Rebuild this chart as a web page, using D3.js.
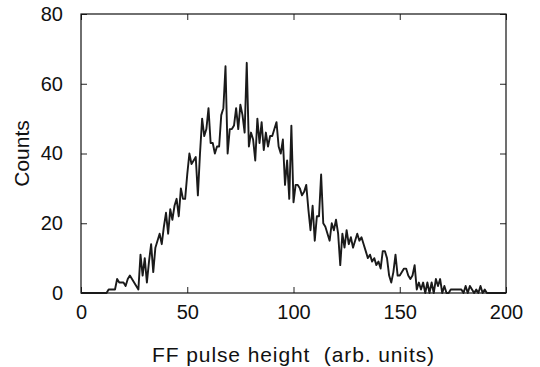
<!DOCTYPE html>
<html>
<head>
<meta charset="utf-8">
<script src="https://cdn.jsdelivr.net/npm/d3@7"></script>
<style>
	body { margin: 0; background: #fff; }
	svg { display: block; font-family: "Liberation Sans", Arial, sans-serif; }
</style>
</head>
<body>
<div id="chart"></div>
<script>
// counts per 1-unit bin, bins 0..200
const counts = [
	0, 0, 0, 0, 0, 0, 0, 0, 0, 0, 0, 0, 0, 1, 1, 1, 1, 4, 3, 3,
	3, 2, 4, 5, 4, 3, 2, 1, 11, 5, 10, 3, 9, 14, 6, 13, 15, 17, 14, 19,
	23, 17, 24, 21, 25, 27, 22, 30, 27, 27, 34, 40, 37, 38, 39, 28, 40, 50, 45, 47,
	53, 43, 43, 40, 42, 42, 51, 53, 65, 40, 47, 47, 48, 53, 47, 54, 51, 46, 66, 42,
	46, 44, 38, 50, 43, 49, 41, 46, 42, 45, 45, 47, 49, 42, 40, 44, 31, 38, 27, 48,
	26, 31, 31, 30, 28, 29, 31, 24, 18, 25, 15, 22, 22, 34, 20, 19, 17, 15, 20, 18,
	21, 17, 8, 17, 13, 18, 14, 16, 13, 15, 17, 15, 16, 14, 12, 10, 11, 9, 10, 8,
	9, 7, 12, 12, 10, 5, 3, 6, 11, 5, 5, 6, 7, 7, 5, 4, 5, 8, 1, 3,
	1, 3, 0, 3, 0, 3, 0, 4, 2, 4, 0, 2, 0, 0, 1, 1, 1, 1, 1, 1,
	0, 2, 0, 2, 1, 0, 1, 0, 2, 0, 1, 0, 0, 0, 0, 0, 0, 0, 0, 0,
	0
];
const xTicks = [0, 50, 100, 150, 200];
const yTicks = [0, 20, 40, 60, 80];
const xTitle = "FF pulse height  (arb. units)";
const yTitle = "Counts";

const width = 540;
const height = 367;
const margin = { top: 14, right: 34, bottom: 74, left: 81 };

const svg = d3.select("#chart")
	.append("svg")
	.attr("width", width)
	.attr("height", height);

const x = d3.scaleLinear()
	.domain([0, 200])
	.range([margin.left, width - margin.right]);

const y = d3.scaleLinear()
	.domain([0, 80])
	.range([height - margin.bottom, margin.top]);

const tickFont = 20;
const titleFont = 21;

// bottom and left axes, ticks pointing inward
svg.append("g")
	.attr("transform", `translate(0 ${height - margin.bottom})`)
	.call(d3.axisBottom(x).tickValues(xTicks).tickSizeInner(-6).tickSizeOuter(0).tickPadding(12));

svg.append("g")
	.attr("transform", `translate(${margin.left} 0)`)
	.call(d3.axisLeft(y).tickValues(yTicks).tickSizeInner(-6).tickSizeOuter(0).tickPadding(18));

// mirrored ticks on top and right
svg.append("g")
	.attr("transform", `translate(0 ${margin.top})`)
	.call(d3.axisTop(x).tickValues(xTicks).tickSizeInner(-6).tickSizeOuter(0).tickFormat(""));

svg.append("g")
	.attr("transform", `translate(${width - margin.right} 0)`)
	.call(d3.axisRight(y).tickValues(yTicks).tickSizeInner(-6).tickSizeOuter(0).tickFormat(""));

svg.selectAll(".domain").remove();
svg.selectAll(".tick line").attr("stroke", "#222");
svg.selectAll(".tick text")
	.attr("fill", "#111")
	.style("font-size", tickFont + "px")
	.style("font-family", "'Liberation Sans', Arial, sans-serif");

// frame
svg.append("rect")
	.attr("x", margin.left)
	.attr("y", margin.top)
	.attr("width", width - margin.left - margin.right)
	.attr("height", height - margin.top - margin.bottom)
	.attr("fill", "none")
	.attr("stroke", "#111")
	.attr("stroke-width", 1.2);

// histogram line
const line = d3.line()
	.x((d, i) => x(i))
	.y((d) => y(d));

svg.append("path")
	.datum(counts)
	.attr("fill", "none")
	.attr("stroke", "#1a1a1a")
	.attr("stroke-width", 1.9)
	.attr("stroke-linejoin", "round")
	.attr("d", line);

// axis titles
svg.append("text")
	.attr("x", (margin.left + width - margin.right) / 2)
	.attr("y", 362)
	.attr("text-anchor", "middle")
	.attr("fill", "#111")
	.style("font-size", titleFont + "px")
	.style("letter-spacing", "0.9px")
	.style("white-space", "pre")
	.text(xTitle);

svg.append("text")
	.attr("transform", `translate(29 ${(margin.top + height - margin.bottom) / 2}) rotate(-90)`)
	.attr("text-anchor", "middle")
	.attr("fill", "#111")
	.style("font-size", titleFont + "px")
	.text(yTitle);
</script>
</body>
</html>
